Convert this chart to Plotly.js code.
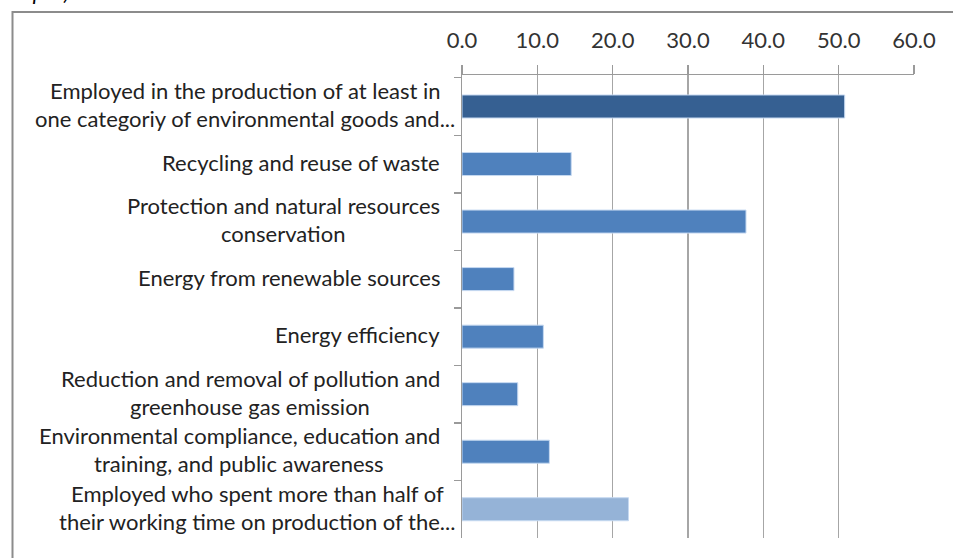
<!DOCTYPE html>
<html>
<head>
<meta charset="utf-8">
<script src="https://cdn.plot.ly/plotly-3.0.1.min.js"></script>
<style>
html,body{margin:0;padding:0;background:#fff;}
#chart{width:953px;height:558px;}
</style>
</head>
<body>
<div id="chart"></div>
<script>
var categories = [
  "Employed in the production of at least in<br>one categoriy of environmental goods and...",
  "Recycling and reuse of waste",
  "Protection and natural resources<br>conservation",
  "Energy from renewable sources",
  "Energy efficiency",
  "Reduction and removal of pollution and<br>greenhouse gas emission",
  "Environmental compliance, education and<br>training, and public awareness",
  "Employed who spent more than half of<br>their working time on production of the..."
];
var values = [50.8, 14.5, 37.7, 6.9, 10.8, 7.4, 11.6, 22.1];
var barColors = ["#366092", "#4F81BD", "#4F81BD", "#4F81BD", "#4F81BD", "#4F81BD", "#4F81BD", "#95B3D7"];
var xTicks = [0, 10, 20, 30, 40, 50, 60];
var headerText = "output) *";

var FONT = "Lato, 'Open Sans', sans-serif";
var LABEL_SIZE = 22;
var L = 462, R = 39, T = 75, B = 20;
var plotW = 953 - L - R, plotH = 558 - T - B;

var trace = {
  type: "bar",
  orientation: "h",
  y: categories,
  x: values,
  width: 0.4,
  marker: {color: barColors, line: {color: "#c6d9f1", width: 1}},
  hoverinfo: "x+y"
};

// measure text to centre multi-line labels inside a right-aligned block
var cv = document.createElement("canvas").getContext("2d");
cv.font = LABEL_SIZE + "px Lato";
function tw(s) { return cv.measureText(s).width; }

var annotations = [];
categories.forEach(function (c) {
  var lines = c.split("<br>");
  var n = lines.length;
  var maxW = Math.max.apply(null, lines.map(tw));
  var gap = c.indexOf("...") >= 0 ? 6 : 22;
  lines.forEach(function (ln, i) {
    annotations.push({
      xref: "paper", yref: "y",
      x: 0, y: c,
      xanchor: "center", yanchor: "middle",
      xshift: -gap - maxW / 2,
      yshift: ((n - 1) / 2 - i) * 28 + 2,
      text: ln, showarrow: false, align: "center",
      font: {family: FONT, size: LABEL_SIZE, color: "#222"}
    });
  });
});
annotations.push({
  xref: "paper", yref: "paper",
  x: -L / plotW, y: 1 + (T + 9) / plotH,
  xanchor: "left", yanchor: "middle",
  text: "<i>" + headerText + "</i>", showarrow: false,
  font: {family: FONT, size: 22, color: "#000"}
});

var layout = {
  width: 953, height: 558,
  margin: {l: L, r: R, t: T, b: B, pad: 0},
  paper_bgcolor: "#fff", plot_bgcolor: "#fff",
  showlegend: false,
  bargap: 0.6,
  xaxis: {
    side: "top", range: [0, 60],
    tickvals: xTicks, tickformat: ".1f",
    ticks: "outside", ticklen: 9, tickwidth: 1.5, tickcolor: "#9a9a9a",
    showline: true, linecolor: "#9a9a9a", linewidth: 1.5,
    showgrid: true, gridcolor: "#a6a6a6", gridwidth: 1.5,
    zeroline: false,
    tickfont: {family: FONT, size: 22, color: "#333"},
    ticklabelstandoff: 8
  },
  yaxis: {
    type: "category", autorange: "reversed",
    range: [7.5, -0.5],
    showticklabels: false,
    ticks: "outside", tickson: "boundaries", ticklen: 7, tickwidth: 1.5, tickcolor: "#9a9a9a",
    showline: true, linecolor: "#9a9a9a", linewidth: 1.5,
    showgrid: false, zeroline: false
  },
  annotations: annotations,
  shapes: [{
    type: "rect", xref: "paper", yref: "paper", layer: "below",
    x0: (12.5 - L) / plotW, x1: (953 + 10 - L) / plotW,
    y0: -(B + 10) / plotH, y1: 1 + (T - 12) / plotH,
    line: {color: "#8c8c8c", width: 2}, fillcolor: "rgba(0,0,0,0)"
  }]
};

Plotly.newPlot("chart", [trace], layout, {displayModeBar: false, staticPlot: true});
</script>
</body>
</html>
